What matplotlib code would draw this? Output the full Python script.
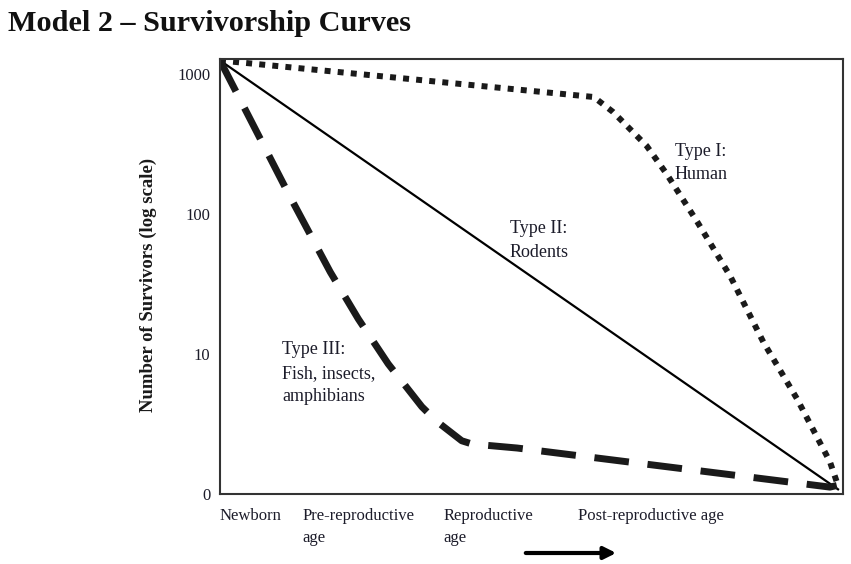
import matplotlib
matplotlib.use("Agg")
import matplotlib.pyplot as plt

# age along the lifespan, in percent (0 = newborn, 100 = end of life)
type1_age = [0, 60.0, 63.1, 65.8, 68.5, 71.7, 76.6, 81.9, 87.2, 92.6, 97.9, 99.2]
type1_surv = [1250, 685, 535, 405, 306, 193, 88, 36, 12.2, 4.8, 1.7, 1.15]

type2_age = [0, 99.2]
type2_surv = [1250, 1.08]

type3_age = [0, 11.2, 17.7, 22.2, 27.0, 32.4, 34.8, 38.8, 40.4, 42.2, 47.7, 97.9, 99.0]
type3_surv = [1250, 134, 38.5, 17.8, 8.5, 4.2, 3.3, 2.4, 2.28, 2.24, 2.13, 1.12, 1.15]

y_ticks = [1, 10, 100, 1000]
y_labels = ["0", "10", "100", "1000"]
x_ticks = [0, 13.3, 35.8, 57.5]
x_labels = ["Newborn", "Pre-reproductive\nage", "Reproductive\nage", "Post-reproductive age"]

serif = ["Liberation Serif", "DejaVu Serif"]
ink = "#1c1c2a"

fig = plt.figure(figsize=(8.51, 5.64), dpi=100)
ax = fig.add_axes([220 / 851, 70 / 564, 623 / 851, 435 / 564])

ax.plot(type1_age, type1_surv, color="#1a1a1a", lw=4.3,
        linestyle=(0, (1.0, 1.2)), dash_capstyle="butt")
ax.plot(type2_age, type2_surv, color="black", lw=1.6)
ax.plot(type3_age, type3_surv, color="#1a1a1a", lw=5,
        linestyle=(0, (5, 2.7)), dash_capstyle="butt", solid_joinstyle="round")

ax.set_yscale("log")
ax.set_ylim(1, 1280)
ax.set_xlim(0, 100)
ax.minorticks_off()
ax.set_yticks(y_ticks)
ax.set_yticklabels(y_labels, family=serif, fontsize=12, color=ink)
ax.set_xticks(x_ticks)
ax.set_xticklabels(x_labels, family=serif, fontsize=12, color=ink, ha="left",
                   multialignment="left", linespacing=1.55)
ax.tick_params(length=0)
ax.tick_params(axis="y", pad=7)
ax.tick_params(axis="x", pad=10)
for s in ax.spines.values():
    s.set_color("#333333")
    s.set_linewidth(1.5)

ax.text(0.730, 0.808, "Type I:\nHuman", transform=ax.transAxes, family=serif,
        fontsize=13, color=ink, va="top", ha="left", linespacing=1.5)
ax.text(0.4655, 0.629, "Type II:\nRodents", transform=ax.transAxes, family=serif,
        fontsize=13, color=ink, va="top", ha="left", linespacing=1.5)
ax.text(0.0995, 0.351, "Type III:\nFish, insects,\namphibians", transform=ax.transAxes,
        family=serif, fontsize=13, color=ink, va="top", ha="left", linespacing=1.5)

fig.text(0.174, 0.495, "Number of Survivors (log scale)", rotation=90, family=serif,
         fontweight="bold", fontsize=13.5, color="#1a1a1a", ha="center", va="center")
fig.text(8 / 851, 0.982, "Model 2 \u2013 Survivorship Curves", family=serif,
         fontweight="bold", fontsize=21.8, color="#111111", ha="left", va="top")

fig.add_artist(matplotlib.patches.FancyArrowPatch(
    (523 / 851, 11 / 564), (619 / 851, 11 / 564), transform=fig.transFigure,
    arrowstyle="-|>", mutation_scale=18, lw=3, color="black"))

fig.savefig("out.png", dpi=100)
